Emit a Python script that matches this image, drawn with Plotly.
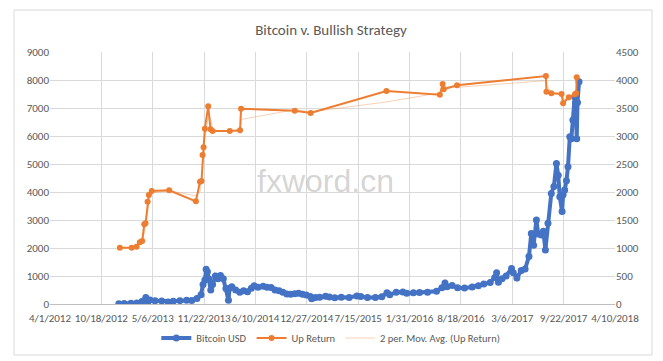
import plotly.graph_objects as go
import pandas as pd

# ---------------- data ----------------
btc_dates = [
    "2012-12-25", "2013-01-15", "2013-02-10", "2013-03-05", "2013-03-25", "2013-04-09", "2013-04-16",
    "2013-04-25", "2013-05-15", "2013-06-10", "2013-07-05", "2013-07-25", "2013-08-20", "2013-09-15",
    "2013-10-05", "2013-10-25", "2013-11-10", "2013-11-18", "2013-11-25", "2013-11-30", "2013-12-05",
    "2013-12-10", "2013-12-18", "2013-12-25", "2014-01-05", "2014-01-15", "2014-01-25", "2014-02-05",
    "2014-02-15", "2014-02-25", "2014-03-01", "2014-03-10", "2014-03-25", "2014-04-10", "2014-04-25",
    "2014-05-10", "2014-05-25", "2014-06-05", "2014-06-20", "2014-07-10", "2014-07-25", "2014-08-10",
    "2014-08-25", "2014-09-10", "2014-09-25", "2014-10-10", "2014-10-25", "2014-11-10", "2014-11-25",
    "2014-12-10", "2014-12-25", "2015-01-10", "2015-01-15", "2015-01-30", "2015-02-15", "2015-03-10",
    "2015-03-25", "2015-04-15", "2015-05-10", "2015-06-10", "2015-07-10", "2015-07-25", "2015-08-20",
    "2015-09-20", "2015-10-15", "2015-11-04", "2015-11-15", "2015-12-10", "2016-01-05", "2016-01-20",
    "2016-02-15", "2016-03-10", "2016-04-10", "2016-05-15", "2016-06-05", "2016-06-17", "2016-06-25",
    "2016-07-15", "2016-08-05", "2016-09-01", "2016-10-01", "2016-10-25", "2016-11-15", "2016-12-10",
    "2016-12-28", "2017-01-04", "2017-01-11", "2017-01-25", "2017-02-10", "2017-03-03", "2017-03-10",
    "2017-03-24", "2017-04-10", "2017-04-25", "2017-05-10", "2017-05-19", "2017-05-28", "2017-06-08",
    "2017-06-15", "2017-06-27", "2017-07-05", "2017-07-13", "2017-07-23", "2017-08-05", "2017-08-15",
    "2017-08-25", "2017-09-01", "2017-09-07", "2017-09-16", "2017-09-20", "2017-09-26", "2017-10-03",
    "2017-10-09", "2017-10-16", "2017-10-22", "2017-10-28", "2017-11-04", "2017-11-08", "2017-11-12",
    "2017-11-15", "2017-11-21",
]
btc_usd = [
    13, 15, 25, 40, 90, 230, 70,
    140, 115, 105, 70, 95, 120, 130,
    125, 200, 330, 700, 860, 1240, 1150,
    900, 500, 700, 1000, 900, 1020, 900,
    550, 135, 560, 620, 500, 420, 470,
    440, 560, 650, 600, 630, 600, 590,
    500, 470, 420, 360, 350, 370, 380,
    350, 320, 270, 190, 230, 240, 280,
    250, 220, 240, 230, 290, 270, 230,
    230, 260, 400, 330, 420, 430, 380,
    400, 415, 420, 455, 580, 750, 620,
    660, 580, 570, 610, 650, 710, 770,
    950, 1120, 780, 900, 1000, 1270, 1120,
    930, 1200, 1250, 1700, 2520, 2100, 3000,
    2500, 2460, 2600, 1930, 2880, 3950, 4200,
    5020, 4600, 3830, 3300, 3900, 4070, 4400,
    4900, 5975, 5900, 6570, 7400, 7200, 5900,
    7200, 7940,
]

up_dates = [
    "2012-12-29", "2013-02-13", "2013-03-04", "2013-03-17", "2013-03-26", "2013-04-03", "2013-04-08",
    "2013-04-16", "2013-04-21", "2013-05-02", "2013-07-09", "2013-10-21", "2013-11-06", "2013-11-12",
    "2013-11-16", "2013-11-20", "2013-11-25", "2013-12-08", "2013-12-17", "2013-12-25", "2014-03-02",
    "2014-04-11", "2014-04-15", "2014-11-10", "2015-01-11", "2015-11-02", "2016-05-28", "2016-06-08",
    "2016-06-12", "2016-08-03", "2017-07-15", "2017-07-17", "2017-08-05", "2017-09-14", "2017-09-20",
    "2017-10-12", "2017-11-05", "2017-11-10", "2017-11-12",
]
up_return = [
    1005, 1005, 1023, 1102, 1125, 1423, 1441,
    1827, 1946, 2018, 2030, 1834, 2184, 2196,
    2661, 2798, 3130, 3530, 3120, 3089, 3089,
    3102, 3488, 3452, 3411, 3804, 3738, 3929,
    3834, 3905, 4071, 3791, 3762, 3750, 3584,
    3691, 3745, 3762, 4048,
]

x_tick_labels = ["4/1/2012", "10/18/2012", "5/6/2013", "11/22/2013", "6/10/2014", "12/27/2014",
                 "7/15/2015", "1/31/2016", "8/18/2016", "3/6/2017", "9/22/2017", "4/10/2018"]

# 2-period moving average trendline of Up Return
ma_vals = [(up_return[i - 1] + up_return[i]) / 2 for i in range(1, len(up_return))]
ma_dates = up_dates[1:]

tick_dates = [pd.to_datetime(t, format="%m/%d/%Y") for t in x_tick_labels]

BLUE = "#4472C4"
ORANGE = "#ED7D31"
GRID = "#D9D9D9"
TXT = "#595959"
FONT = "Carlito, 'Liberation Sans Narrow', 'Open Sans', sans-serif"
TFONT = "Carlito, Lato, 'Open Sans', sans-serif"

# page offset (body margin) compensation
OFF = 8
PL, PT, PW, PH = 50 - OFF, 52 - OFF, 565, 252

fig = go.Figure()
fig.add_trace(go.Scatter(
    x=pd.to_datetime(ma_dates), y=ma_vals, name="2 per. Mov. Avg. (Up Return)", mode="lines",
    line=dict(color=ORANGE, width=1), opacity=0.35, yaxis="y2", legendrank=3,
))
fig.add_trace(go.Scatter(
    x=pd.to_datetime(btc_dates), y=btc_usd, name="Bitcoin USD", mode="lines+markers",
    line=dict(color=BLUE, width=4), marker=dict(color=BLUE, size=7), yaxis="y", legendrank=1,
))
fig.add_trace(go.Scatter(
    x=pd.to_datetime(up_dates), y=up_return, name="Up Return", mode="lines+markers",
    line=dict(color=ORANGE, width=2), marker=dict(color=ORANGE, size=6), yaxis="y2", legendrank=2,
))

fig.update_layout(
    width=663, height=361,
    margin=dict(l=PL, r=663 - PL - PW, t=PT, b=361 - PT - PH, autoexpand=False),
    paper_bgcolor="white", plot_bgcolor="white",
    font=dict(family=FONT, size=11, color=TXT),
    title=dict(text="Bitcoin v. Bullish Strategy", x=(331 - OFF) / 663, xanchor="center",
               y=1 - (30 - OFF) / 361, yanchor="middle",
               font=dict(size=15, color=TXT, family=TFONT)),
    showlegend=True,
    legend=dict(orientation="h", x=0.497, xanchor="center", y=-0.135, yanchor="middle",
                font=dict(size=10.5, color=TXT, family=FONT), bgcolor="rgba(0,0,0,0)",
                itemwidth=30, traceorder="normal"),
    xaxis=dict(
        type="date", range=[tick_dates[0], tick_dates[-1]],
        tickvals=tick_dates, ticktext=x_tick_labels, tickangle=0, automargin=False,
        showgrid=True, gridcolor=GRID, gridwidth=1, ticklabelstandoff=4,
        showline=True, linecolor="#BFBFBF", linewidth=1, ticks="", zeroline=False,
        tickfont=dict(size=11, color=TXT, family=FONT),
    ),
    yaxis=dict(
        range=[0, 9000], dtick=1000, showgrid=True, gridcolor=GRID, gridwidth=1, automargin=False,
        zeroline=False, showline=False, ticks="", tickfont=dict(size=11, color=TXT, family=FONT),
    ),
    yaxis2=dict(
        range=[0, 4500], dtick=500, overlaying="y", side="right", showgrid=False, automargin=False,
        zeroline=False, showline=False, ticks="", tickfont=dict(size=11, color=TXT, family=FONT),
    ),
    shapes=[dict(type="rect", xref="paper", yref="paper",
                 x0=(14 - 50) / PW, x1=(652 - 50) / PW,
                 y0=(304 - 355) / PH, y1=(304 - 10) / PH,
                 line=dict(color=GRID, width=1), fillcolor="rgba(0,0,0,0)", layer="below")],
    annotations=[dict(text="fxword.cn", xref="paper", yref="paper",
                      x=(325 - 50) / PW, y=(304 - 181) / PH, showarrow=False,
                      font=dict(size=32, color="rgba(160,160,160,0.45)", family="Liberation Sans, Arial"))],
)

fig.write_html("out.html")
